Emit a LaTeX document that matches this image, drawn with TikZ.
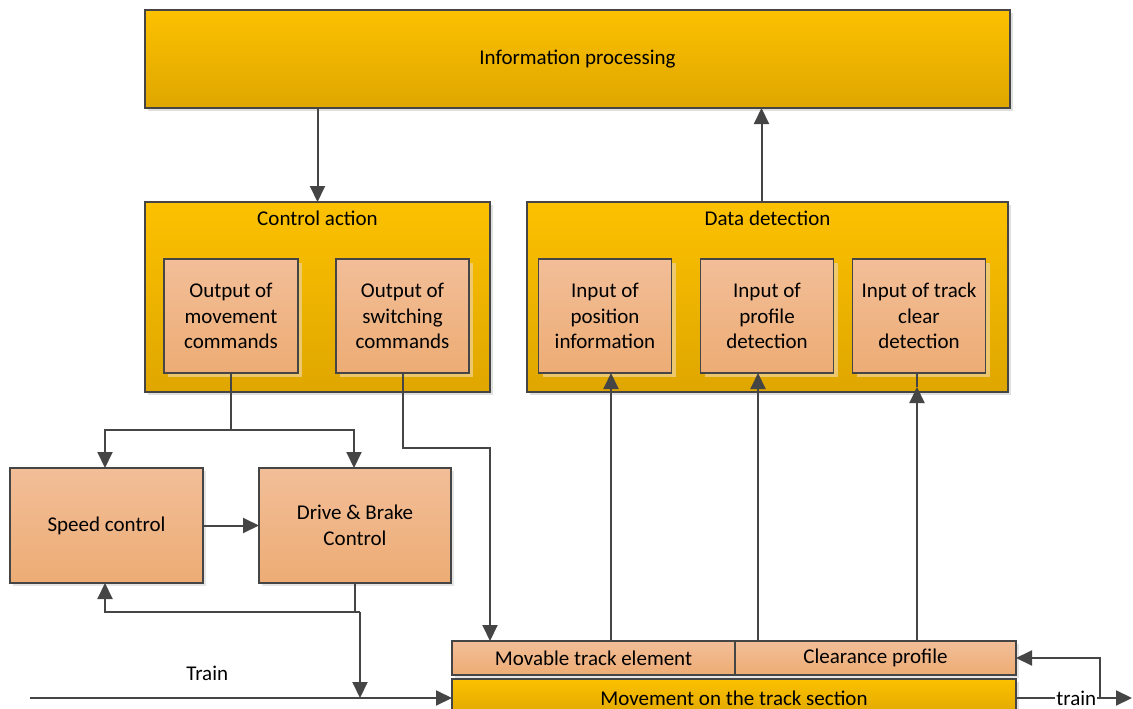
\documentclass[tikz,border=0pt]{standalone}
\usepackage{fontspec}
\setmainfont{Carlito}
\usetikzlibrary{arrows.meta,shadows,calc}
\definecolor{edge}{HTML}{454545}
\definecolor{ambertop}{HTML}{FCC100}
\definecolor{amberbot}{HTML}{DFA600}
\definecolor{salmontop}{HTML}{F2BE98}
\definecolor{salmonbot}{HTML}{EDAC74}
\definecolor{creamshadow}{HTML}{EFCB7A}
\tikzset{
  base/.style={draw=edge, line width=1.8pt, inner sep=0pt, outer sep=0pt, align=center},
  bigbox/.style={base, top color=ambertop, bottom color=amberbot,
    drop shadow={shadow xshift=3pt, shadow yshift=-3pt, fill=black, opacity=0.12}},
  innerbox/.style={base, top color=salmontop, bottom color=salmonbot,
    drop shadow={shadow xshift=4pt, shadow yshift=-4pt, fill=creamshadow, opacity=0.9}},
  freebox/.style={base, top color=salmontop, bottom color=salmonbot,
    drop shadow={shadow xshift=3pt, shadow yshift=-3pt, fill=black, opacity=0.10}},
  conn/.style={draw=edge, line width=2pt},
  arr/.style={conn, -{Triangle[length=16pt, width=15pt]}},
}
\begin{document}
\begin{tikzpicture}[x=1pt, y=-1pt, font=\fontsize{21}{25.5}\selectfont]
\useasboundingbox (0,0) rectangle (1133,709);

% upper level
\node[bigbox, minimum width=865pt, minimum height=98pt] (info) at (577.5,59) {Information processing};

% control action block
\node[bigbox, minimum width=345pt, minimum height=190pt] (ctrl) at (317.5,297) {};
\node (ctrltitle) at ($(ctrl.north)+(0,16)$) {Control action};
\node[innerbox, minimum width=134pt, minimum height=114pt] (mov) at (231,316) {Output of\\movement\\commands};
\node[innerbox, minimum width=133pt, minimum height=114pt] (sw) at (402.5,316) {Output of\\switching\\commands};

% data detection block
\node[bigbox, minimum width=481pt, minimum height=190pt] (data) at (767.5,297) {};
\node (datatitle) at ($(data.north)+(0,16)$) {Data detection};
\node[innerbox, minimum width=133pt, minimum height=114pt] (pos) at (605,316) {Input of\\position\\information};
\node[innerbox, minimum width=133pt, minimum height=114pt] (prof) at (767,316) {Input of\\profile\\detection};
\node[innerbox, minimum width=133pt, minimum height=114pt] (clr) at (919,316) {Input of track\\clear\\detection};

% train side
\node[freebox, minimum width=193pt, minimum height=115pt] (speed) at (106.5,525.5) {Speed control};
\node[freebox, minimum width=192pt, minimum height=115pt] (drive) at (355,525.5) {Drive \& Brake\\Control};

% track section
\node[freebox, minimum width=283pt, minimum height=34pt] (movable) at (593.5,658) {Movable track element};
\node[freebox, minimum width=281pt, minimum height=34pt] (clearance) at (875.5,658) {Clearance profile};
\node[bigbox, minimum width=564pt, minimum height=38pt] (movement) at (734,698) {Movement on the track section};

% attachment points of the connectors
\coordinate (upx) at ($(data.north)+(-6,0)$);
\coordinate (posx) at ($(pos.south)+(6,0)$);
\coordinate (profx) at ($(prof.south)+(-9,0)$);
\coordinate (clrx) at ($(clr.south)+(-2,0)$);
\coordinate (clrtip) at ($(clr.south)+(-2,14)$);

% connectors
\draw[arr] (info.south -| ctrl.north) -- (ctrl.north);
\draw[arr] (upx) -- (info.south -| upx);

\draw[conn] (mov.south) -- ++(0,57) coordinate (split);
\draw[arr] (split) -| ([xshift=-1.5pt]speed.north);
\draw[arr] (split) -| ([xshift=-1pt]drive.north);

\draw[arr] (sw.south) -- ++(0,75) -| ([xshift=38pt]movable.north west);

\draw[arr] (speed.east) -- (drive.west);

\draw[conn] (drive.south) -- ++(0,29) coordinate (fb);
\coordinate (fbr) at ($(fb)+(5,0)$);
\draw[arr] (fbr) -| ([xshift=-1.5pt]speed.south);
\draw[arr] (fbr) -- (fbr |- movement.west);

\coordinate (trainin) at (30,698);
\draw[arr] (trainin) -- node[pos=0.42, above=13pt] (trainlbl) {Train} (movement.west);

\coordinate (trainout) at (1132,698);
\draw[arr] (movement.east) -- node[fill=white, inner sep=1pt, pos=0.52] (trainlbl2) {train} (trainout);
\coordinate (loop) at (1100,698);
\draw[arr] (loop) |- (clearance.east);

\draw[arr] (movable.north -| posx) -- (posx);
\draw[arr] (clearance.north -| profx) -- (profx);
\draw[arr] (clearance.north -| clrx) -- (clrtip);
\draw[conn] (clrtip) -- (clrx);
\end{tikzpicture}
\end{document}
